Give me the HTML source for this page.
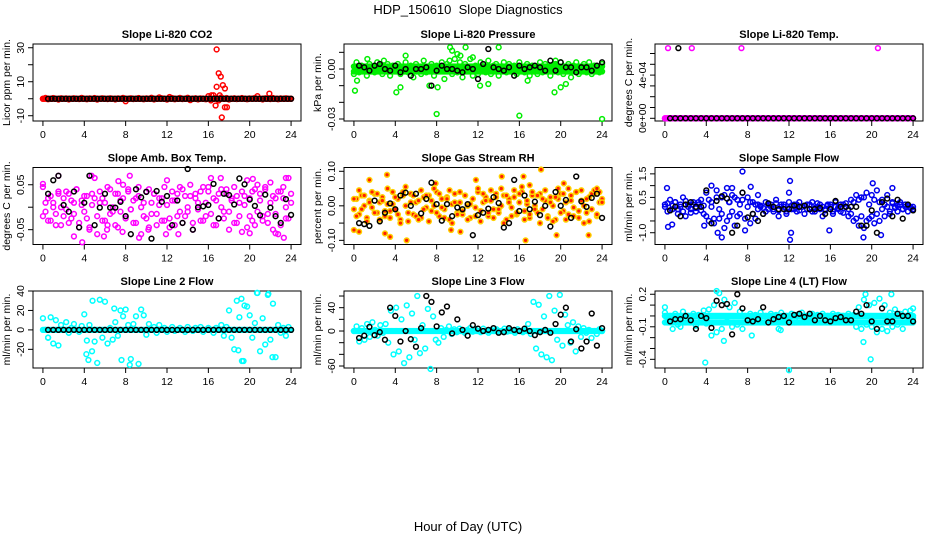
<!DOCTYPE html>
<html><head><meta charset="utf-8"><style>
html,body{margin:0;padding:0;background:#fff;}
svg{display:block;font-family:"Liberation Sans",sans-serif;}
</style></head><body>
<svg id="chart" width="936" height="540" viewBox="0 0 936 540">
<text x="468" y="14" text-anchor="middle" font-size="13">HDP_150610&#160; Slope Diagnostics</text>
<text x="468" y="531" text-anchor="middle" font-size="13">Hour of Day (UTC)</text>
</svg>
<script>
const xTicks=[0,4,8,12,16,20,24];
const p1Core=[0,0.5,-0.3,0,0.4,0,-0.5,0.3,0,0.2,-0.4,0,0.3,0,-0.2,0.5,0,-0.3,0.2,0,0.4,-0.5,0,0.3,0,-0.2,0.3,0,-0.4,0.2,0,0.5,-1.5,0,0.3,-0.2,0,0.4,0,-0.3,0.2,0,0.6,-0.4,0,0.8,0.3,0,-0.5,1,0.4,-0.3,0,0.5,-0.2,0,0.6,-0.8,0,0.3,-0.4,0.2,0,-0.3,1.5,-1,2,0.5,-1,0.8,0,0.4,-0.5,0,0.3,-0.2,0,0.4,0,-0.3,0.2,0,0.5,1.5,0,-0.4,0.3,0,-0.2,0.4,0,-0.3,0.2,0,0.3,0,0];
const p1Band=new Array(193).fill(0);
const p1Blk=new Array(70).fill(0);
const p1OutX=[16.8,17.0,17.2,17.4,16.8,17.6,17.3,16.7,17.6,17.8,21.9,16.3,17.1];
const p1OutY=[29,15,13,8,7,6,-11,-4,-5,-5,3,2,2];
const p2Core=[-0.003,0.004,-0.002,0.002,0.001,-0.004,0.003,0,-0.002,0.004,0.002,-0.003,0.001,0.003,-0.004,0.002,-0.001,0.003,-0.003,0.001,0.004,-0.002,0.002,-0.005,0.003,0,-0.003,0.005,-0.002,0.001,0.003,-0.004,0.002,-0.001,0.004,-0.006,0.003,0.005,-0.003,0.006,-0.002,0.004,-0.005,0.003,0.001,0.006,-0.004,0.002,-0.003,0.004,0.001,-0.002,0.005,-0.003,0.002,0.003,-0.004,0.001,0.004,-0.002,0.003,-0.001,0.002,-0.003,0.004,0,-0.002,0.003,-0.004,0.002,0.001,-0.003,0.004,-0.002,0.003,0,-0.004,0.002,0.003,-0.002,0.004,-0.003,0.001,0.003,-0.005,0.002,0.004,-0.003,0.001,0.003,-0.002,0.004,-0.003,0.002,0.001,-0.002,0.003];
const p2Band=new Array(193).fill(-0.0015);
const p2Band2=new Array(193).fill(0.0015);
const p2Blk=[0.002,0.001,-0.001,0.002,0.003,0,-0.001,0.002,-0.002,0,-0.004,0,0,0.001,-0.010,-0.001,0.002,0,0,-0.001,-0.002,0.001,0,-0.006,0.003,0.012,0.001,0,-0.001,0.001,-0.004,0.002,0,0.001,0.002,0.001,-0.001,0.005,-0.001,0.004,0.001,0.001,-0.002,0.001,0.001,-0.001,0.002,0.004];
const p2OutX=[0.1,0.3,1.3,2.9,4.1,4.5,5,8,9.3,9.5,10,10.8,10.3,11.5,14,16,16.8,19.4,19.5,20,20.5,24,12.2,13,7.3,8.1];
const p2OutY=[-0.013,-0.007,0.006,0.005,-0.014,-0.011,0.008,-0.027,0.013,0.011,0.009,0.013,0.008,0.007,0.013,-0.028,-0.007,-0.014,0.005,-0.011,-0.009,-0.03,-0.010,-0.009,-0.010,-0.011];
const p3Core=new Array(97).fill(0);
const p3Band=new Array(193).fill(0);
const p3Blk=new Array(48).fill(0);
const p3OutX=[0.3,2.6,7.4,20.6];
const p3OutY=[0.00065,0.00065,0.00065,0.00065];
const p3BlkOutX=[1.3];
const p3BlkOutY=[0.00065];
const p4Core=[0.045,-0.01,0.02,-0.03,0.01,-0.04,0.03,0,-0.02,0.035,-0.035,0.015,-0.015,0.04,-0.045,0.005,0.025,-0.025,-0.05,0.03,0.065,-0.06,0.01,0.02,-0.03,-0.04,0.04,-0.01,0.03,-0.045,0.015,0.05,-0.02,0.035,-0.005,-0.035,0.02,0.045,-0.06,0.01,-0.025,0.04,-0.015,0.03,-0.04,0.005,0.02,-0.03,0.06,-0.045,0.035,0.015,-0.02,0.045,-0.035,0.025,-0.01,0.05,-0.05,0.03,0.01,-0.03,0.045,-0.02,0.035,0.065,-0.04,0.015,-0.025,0.04,-0.01,0.03,-0.05,0.02,0.045,-0.035,0.01,-0.055,0.025,0.06,-0.02,0.035,-0.04,0.05,0.015,-0.03,0.04,-0.015,0.055,-0.05,0.02,-0.06,0.035,0.045,-0.025,0.065,0.01];
const p4Band=[-0.02,0.01,-0.03,0.025,0,-0.015,0.035,-0.04,0.02,-0.005,0.03,-0.025,0.01,0.04,-0.035,0.015,-0.01,0.025,-0.045,0.005,0.02,-0.02,0.035,-0.03,0.01,0.045,-0.015,0.0,-0.04,0.03,-0.01,0.02,-0.025,0.04,-0.005,0.015,-0.035,0.025,0.0,-0.02,0.035,-0.045,0.01,0.03,-0.015,0.02,-0.03,0.045,0.005,-0.025,0.015,-0.04,0.03,-0.01,0.04,-0.02,0.0,0.025,-0.035,0.02,-0.005,0.035,-0.03,0.01,0.045,-0.015,0.02,-0.04,0.03,0.0,-0.025,0.04,-0.01,0.015,-0.035,0.025,-0.02,0.035,0.005,-0.045,0.02,-0.03,0.04,-0.01,0.03,-0.02,0.045,-0.035,0.01,0.025,-0.015,0.035,-0.04,0.02,0.0,-0.025,0.03];
const p4Blk=[0.03,0.06,0.07,0.005,-0.01,0.035,-0.045,0.01,0.07,-0.04,-0.001,0.03,-0.001,-0.001,0.012,-0.02,-0.06,0.04,0.022,0.034,-0.07,0.036,0.012,0.025,-0.04,0.015,-0.035,0.085,-0.05,0.0,0.002,0.005,0.052,-0.025,0.03,0.027,0.006,0.064,0.051,0.017,0.003,-0.018,0.028,-0.001,-0.02,-0.035,0.018,-0.017];
const p4OutX=[3,3.8,4.7,6.2,7.7,8.4,9.3,10.2,11.9,17.2,20,20.3,22.5,23.3,23.5,1.5,0,7.3,5.9,13.1];
const p4OutY=[-0.065,-0.078,0.07,-0.05,-0.055,0.07,-0.068,-0.05,-0.06,0.065,-0.058,0.063,-0.058,-0.068,0.065,0.07,0.052,0.058,-0.065,-0.06];
const p5Core=[0.02,-0.03,0.045,-0.01,0.03,-0.045,0.01,0.04,-0.02,0.035,-0.04,0.015,-0.015,0.05,-0.035,0.005,0.025,-0.025,-0.05,0.04,0.055,-0.045,0.01,0.03,-0.03,-0.04,0.045,-0.01,0.03,-0.045,0.015,0.05,-0.02,0.035,-0.005,-0.035,0.02,0.045,-0.05,0.01,-0.025,0.04,-0.015,0.03,-0.04,0.005,0.02,-0.03,0.05,-0.045,0.035,0.015,-0.02,0.045,-0.035,0.025,-0.01,0.05,-0.05,0.03,0.01,-0.03,0.045,-0.02,0.035,0.055,-0.04,0.015,-0.025,0.04,-0.01,0.03,-0.05,0.02,0.045,-0.035,0.01,-0.045,0.025,0.05,-0.02,0.035,-0.04,0.05,0.015,-0.03,0.04,-0.015,0.045,-0.05,0.02,-0.045,0.035,0.045,-0.025,0.04,0.01];
const p5Band=[-0.01,0.02,-0.025,0.03,0.0,-0.035,0.015,-0.005,0.035,-0.02,0.01,0.025,-0.03,0.005,-0.015,0.04,-0.01,0.02,-0.04,0.03,0.0,-0.02,0.035,-0.025,0.01,0.015,-0.035,0.025,-0.005,0.03,-0.015,0.0,0.04,-0.03,0.02,-0.01,0.025,-0.04,0.005,0.035,-0.02,0.01,-0.025,0.03,0.0,-0.035,0.02,-0.005,0.04,-0.015,0.01,0.025,-0.03,0.015,-0.01,0.035,-0.02,0.0,0.03,-0.04,0.02,-0.005,0.025,-0.025,0.01,0.04,-0.015,0.005,-0.035,0.03,0.0,-0.02,0.035,-0.01,0.015,-0.03,0.025,0.0,-0.04,0.02,0.035,-0.015,0.01,-0.025,0.03,-0.005,0.04,-0.035,0.015,0.0,-0.02,0.025,-0.01,0.035,-0.03,0.01,0.02];
const p5Blk=[-0.05,-0.053,-0.058,0.015,-0.045,-0.02,0.007,-0.01,0.03,0.038,0,0.035,-0.022,0.02,0.067,0.005,-0.043,0.005,-0.03,-0.005,-0.01,0.005,-0.085,-0.027,-0.02,-0.008,0.025,0.008,-0.063,-0.05,0.075,-0.015,0.03,-0.01,0.012,-0.027,0.0,-0.06,0.04,0.0,0.017,-0.035,0.085,0.013,-0.003,0.023,0.035,-0.035];
const p5OutX=[0,0.5,1.5,3.2,3.5,5.1,7.9,9.4,10.3,11.8,14.3,16.4,16.6,18.1,19.6,20.3,22.7,23.5,17,3];
const p5OutY=[-0.07,-0.075,0.075,0.09,-0.09,-0.1,0.065,-0.07,-0.075,0.075,0.085,0.085,-0.1,0.105,-0.085,0.065,-0.085,0.05,0.06,-0.08];
const p6Core=[0.2,-0.1,0.4,0,0.3,-0.2,0.1,0.5,-0.3,0.2,0,0.3,-0.1,0.2,0.4,-0.2,0.7,-0.5,0.3,-0.6,0.8,-0.4,0.5,-0.8,0.9,-0.3,0.6,-0.7,0.4,-0.2,0.7,-0.9,0.5,-0.6,0.3,-0.4,0.2,0.1,-0.2,0.3,0,0.2,-0.1,0.4,-0.3,0.2,0.1,-0.2,0.3,0,0.2,-0.1,0.3,0.1,-0.2,0.2,0,0.3,-0.1,0.1,0.2,-0.3,0,0.2,0.1,-0.2,0.3,0,-0.1,0.2,0.1,-0.3,0.4,-0.5,0.6,-0.7,0.5,-0.8,0.7,-0.4,0.6,-0.6,0.8,-0.5,0.4,-0.3,0.6,-0.2,0.3,0.1,-0.1,0.3,0,0.2,-0.1,0.1,0];
const p6Band=[0.1,0.25,-0.05,0.15,0.3,0.0,0.2,-0.1,0.35,0.1,-0.15,0.2,0.05,0.3,-0.05,0.15,-0.3,0.4,0.1,-0.4,0.5,0.0,-0.2,0.6,-0.5,0.3,-0.1,0.5,-0.3,0.2,0.4,-0.4,0.1,0.3,-0.2,0.2,0.0,0.15,0.05,-0.1,0.2,0.1,0.0,0.25,-0.05,0.1,0.2,-0.1,0.05,0.15,0.0,0.2,-0.05,0.1,0.15,0.0,0.2,-0.1,0.05,0.25,0.0,0.1,-0.05,0.15,0.2,-0.1,0.1,0.05,0.2,-0.15,0.25,0.0,-0.2,0.3,-0.4,0.4,-0.3,0.5,-0.5,0.2,-0.3,0.4,-0.2,0.3,0.0,0.2,0.1,-0.1,0.25,0.05,0.15,0.2,0.0,0.1,0.15,0.05,0.1];
const p6Blk=[-0.05,0.1,-0.3,0.2,0.3,0.1,0.1,0.8,-0.6,0.35,0.55,0.45,-1.0,-0.7,0.7,-0.35,-0.2,-0.5,-0.2,0.25,0.1,0.0,0.0,0.0,0.15,0.1,0.15,0.0,0.0,0.05,-0.2,0.0,0.35,0.1,0.1,0.1,0.1,-0.7,-0.7,-0.05,-1.0,0.3,0.45,-0.3,0.4,-0.4,0.2,-0.05];
const p6OutX=[0.2,0.3,0.7,4.5,5.5,6.5,7.5,8.3,9,12.1,12,12.1,12.2,15.9,19.2,20.1,20.9,22,3.8,5.1,6.2];
const p6OutY=[0.9,-0.75,-0.65,1,-1.2,0.9,1.6,0.95,0.6,1.2,0.7,-1.3,-1,-0.9,-1.2,1.1,-1.1,0.9,-0.7,-1,0.3];
const p7Core=[12,0,-8,13,-14,10,-16,5,0,8,-3,2,6,0,-2,4,16,-11,5,-22,-12,-34,31,-8,29,-14,2,-10,8,-6,20,14,21,5,-30,6,14,-35,21,15,-5,6,0,3,-3,5,0,2,-2,0,3,-1,0,2,0,-2,3,0,-1,2,0,3,-2,0,2,0,-3,2,0,5,-6,3,20,-8,-20,30,13,-32,25,24,15,-8,7,38,-22,12,-15,36,-10,27,-28,5,-3,2,-6,3,0];
const p7Band=new Array(193).fill(0);
const p7Blk=new Array(48).fill(0);
const p7OutX=[0.5,4.4,4.2,4.8,7.6,8.4,18.9,19.2,20.7,21.8,22.2,6.9,19.4];
const p7OutY=[-8,-31,-25,30,-31,-36,-21,32,38,37,-28,22,-32];
const p8Core=[0,8,-18,5,-15,12,-10,15,2,-8,10,-3,12,-20,35,-40,40,-35,20,-55,44,-45,30,-15,60,-38,10,-30,38,-65,25,-15,-20,5,-10,2,8,-5,3,-2,4,0,-3,2,5,-1,3,0,-2,4,0,-3,2,0,3,-2,0,4,-1,2,0,-3,3,0,-2,2,12,-5,50,-30,45,-40,25,-45,60,-50,35,-15,62,-25,28,10,-20,15,-35,8,-10,5,-3,2,-12,0,-5,3,0];
const p8Band=new Array(193).fill(0);
const p8Blk=[-12,-8,7,-7,-2,-15,40,26,-18,0,-14,-27,5,60,50,8,32,42,-4,20,2,-8,10,4,0,2,5,-3,-2,5,2,0,4,0,-7,-2,2,-3,12,28,40,-18,3,-30,-18,30,-25,5];
const p9Core=[0.03,-0.05,0.0,-0.12,0.02,-0.08,-0.1,0.04,-0.03,0.0,-0.06,0.02,-0.09,0.01,-0.04,0.05,-0.07,0.06,-0.18,0.1,-0.15,0.21,-0.12,0.15,-0.05,0.08,-0.1,0.12,-0.08,0.04,-0.12,0.0,-0.03,0.02,-0.05,0.01,-0.04,0.03,-0.02,0.0,-0.06,0.02,-0.04,0.01,-0.12,0.03,-0.05,0.0,-0.03,0.02,-0.06,0.01,-0.04,0.03,-0.02,0.0,-0.05,0.02,-0.03,0.01,-0.06,0.02,-0.04,0.0,-0.03,0.02,-0.05,0.01,-0.03,0.0,-0.05,0.02,-0.04,0.01,-0.1,0.08,-0.12,0.15,-0.08,0.1,-0.1,0.12,-0.15,0.16,-0.12,0.1,-0.14,0.03,-0.1,0.06,-0.08,0.02,-0.12,0.04,-0.05,0.05,-0.02];
const p9Band=new Array(193).fill(-0.06);
const p9Band2=new Array(193).fill(0.0);
const p9Blk=[-0.05,-0.03,-0.03,0.0,-0.04,-0.12,0.0,-0.02,-0.11,0.14,0.1,0.11,-0.17,0.2,0.07,-0.04,-0.05,-0.03,0.08,-0.06,-0.03,-0.01,0.0,-0.06,0.01,0.02,-0.01,0.02,-0.04,0.0,-0.04,-0.05,-0.02,-0.01,-0.04,-0.04,0.04,0.02,0.1,-0.05,-0.12,0.07,-0.05,-0.05,0.02,0.0,0.0,-0.05];
const p9OutX=[3.9,5,5.7,8.4,11.2,12,19.2,19.4,19.9,21.9,24,0];
const p9OutY=[-0.43,0.23,-0.23,-0.18,-0.13,-0.5,-0.24,0.2,-0.4,0.2,0.07,0.08];

const NS='http://www.w3.org/2000/svg';
const svg=document.getElementById('chart');
const panels=[
 {name:'co2',title:'Slope Li-820 CO2',ylab:'Licor ppm per min.',col:0,row:0,dom:[-13.1,32.2],ticks:[-10,0,10,20,30],labels:['-10','','10','','30'],color:'#ff0000',core:p1Core,bands:[p1Band],blk:p1Blk,ox:p1OutX,oy:p1OutY},
 {name:'pressure',title:'Slope Li-820 Pressure',ylab:'kPa per min.',col:1,row:0,dom:[-0.0312,0.015],ticks:[-0.03,-0.02,-0.01,0,0.01],labels:['-0.03','','','0.00',''],color:'#00ee00',core:p2Core,bands:[p2Band,p2Band2],blk:p2Blk,ox:p2OutX,oy:p2OutY},
 {name:'temp',title:'Slope Li-820 Temp.',ylab:'degrees C per min.',col:2,row:0,dom:[-0.000025,0.000688],ticks:[0,0.0001,0.0002,0.0003,0.0004,0.0005,0.0006],labels:['0e+00','','','','4e-04','',''],color:'#ff00ff',core:p3Core,bands:[p3Band],blk:p3Blk,ox:p3OutX,oy:p3OutY,bx:p3BlkOutX,by:p3BlkOutY},
 {name:'amb-box-temp',title:'Slope Amb. Box Temp.',ylab:'degrees C per min.',col:0,row:1,dom:[-0.083,0.0884],ticks:[-0.05,0,0.05],labels:['-0.05','','0.05'],color:'#ff00ff',core:p4Core,bands:[p4Band],blk:p4Blk,ox:p4OutX,oy:p4OutY},
 {name:'gas-rh',title:'Slope Gas Stream RH',ylab:'percent per min.',col:1,row:1,dom:[-0.112,0.111],ticks:[-0.1,-0.05,0,0.05,0.1],labels:['-0.10','','0.00','','0.10'],color:'#ffd000',fill:'#ff2000',core:p5Core,bands:[p5Band],blk:p5Blk,ox:p5OutX,oy:p5OutY},
 {name:'sample-flow',title:'Slope Sample Flow',ylab:'ml/min per min.',col:2,row:1,dom:[-1.5,1.77],ticks:[-1,-0.5,0,0.5,1,1.5],labels:['-1.0','','','0.5','','1.5'],color:'#0000ee',core:p6Core,bands:[p6Band],blk:p6Blk,ox:p6OutX,oy:p6OutY},
 {name:'line2-flow',title:'Slope Line 2 Flow',ylab:'ml/min per min.',col:0,row:2,dom:[-39.2,40],ticks:[-20,0,20,40],labels:['-20','0','20','40'],color:'#00ffff',core:p7Core,bands:[p7Band],blk:p7Blk,ox:p7OutX,oy:p7OutY},
 {name:'line3-flow',title:'Slope Line 3 Flow',ylab:'ml/min per min.',col:1,row:2,dom:[-63.4,68.6],ticks:[-60,-40,-20,0,20,40,60],labels:['-60','','','0','','40',''],color:'#00ffff',core:p8Core,bands:[p8Band],blk:p8Blk,ox:[],oy:[]},
 {name:'line4-flow',title:'Slope Line 4 (LT) Flow',ylab:'ml/min per min.',col:2,row:2,dom:[-0.48,0.23],ticks:[-0.4,-0.3,-0.2,-0.1,0,0.1,0.2],labels:['-0.4','','','-0.1','','','0.2'],color:'#00ffff',core:p9Core,bands:[p9Band,p9Band2],blk:p9Blk,ox:p9OutX,oy:p9OutY}
];
const lefts=[33,344,655], tops=[44,167.5,291], W=268, H=77;
function el(tag,attrs,parent){const e=document.createElementNS(NS,tag);for(const k in attrs)e.setAttribute(k,attrs[k]);parent.appendChild(e);return e;}
panels.forEach(p=>{
 const L=lefts[p.col],T=tops[p.row];
 const g=el('g',{},svg);
 
 
 const X=h=>L+(h+0.96)/25.92*W;
 const Y=v=>T+H-(v-p.dom[0])/(p.dom[1]-p.dom[0])*H;
 const t=el('text',{x:L+W/2,y:T-6,'text-anchor':'middle','font-size':'11','font-weight':'bold'},g);
 t.textContent=p.title;
 
 
 const box=el('rect',{x:L,y:T,width:W,height:H,fill:'none',stroke:'#000','stroke-width':1},g);
 
 
 const xa=el('g',{},g);
 
 
 el('line',{x1:X(0),x2:X(24),y1:T+H,y2:T+H,stroke:'#000'},xa);
 xTicks.forEach(v=>{el('line',{x1:X(v),x2:X(v),y1:T+H,y2:T+H+5,stroke:'#000'},xa);
  const tx=el('text',{x:X(v),y:T+H+17,'text-anchor':'middle','font-size':'10.5'},xa);tx.textContent=v;
  
  });
 const ya=el('g',{},g);
 
 
 const tk=p.ticks;
 el('line',{x1:L,x2:L,y1:Y(tk[0]),y2:Y(tk[tk.length-1]),stroke:'#000'},ya);
 tk.forEach((v,i)=>{el('line',{x1:L-5,x2:L,y1:Y(v),y2:Y(v),stroke:'#000'},ya);
  if(p.labels[i]){const ty=el('text',{x:0,y:0,'text-anchor':'middle','font-size':'10.5',transform:`translate(${L-9},${Y(v)}) rotate(-90)`},ya);ty.textContent=p.labels[i];
  
  }});
 const yl=el('text',{x:0,y:0,'text-anchor':'middle','font-size':'10.5',transform:`translate(${L-23},${T+H/2}) rotate(-90)`},ya);
 yl.textContent=p.ylab;
 
 
 const dot=(h,v,c,f,par,nm)=>{const c1=el('circle',{cx:X(h),cy:Y(v),r:2.4,fill:f||'none',stroke:c,'stroke-width':1.5},par);
  
  };
 const sc=el('g',{},g);
 
 
 p.bands.forEach(b=>{const nb=b.length;b.forEach((v,i)=>dot(i*24/(nb-1),v,p.color,p.fill,sc,'slope-point'));});
 const n=p.core.length;
 p.core.forEach((v,i)=>dot(i*24/(n-1),v,p.color,p.fill,sc,'slope-point'));
 p.ox.forEach((h,i)=>dot(h,p.oy[i],p.color,p.fill,sc,'slope-point'));
 const sb=el('g',{},g);
 
 
 const m=p.blk.length;
 p.blk.forEach((v,i)=>dot(0.5+i*23.5/(m-1),v,'#000',null,sb,'mean-point'));
 if(p.bx)p.bx.forEach((h,i)=>dot(h,p.by[i],'#000',null,sb,'mean-point'));
});
</script>
</body></html>
